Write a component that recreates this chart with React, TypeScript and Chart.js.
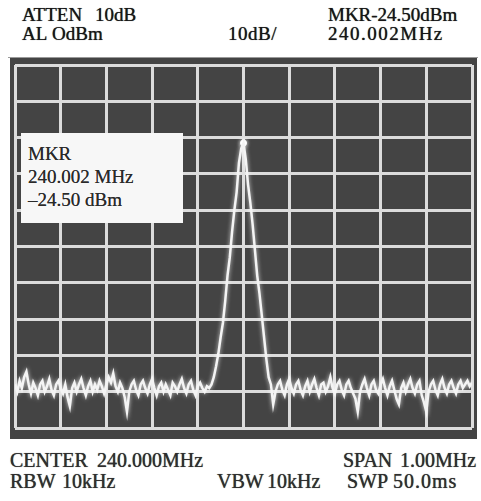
import React, { useEffect, useRef } from "react";
import { Chart, registerables } from "chart.js";

Chart.register(...registerables);

// Sweep definition (CENTER 240.000 MHz, SPAN 1.00 MHz)
const SWEEP_START_MHZ = 239.5;
const SWEEP_STOP_MHZ = 240.5;

// Trace levels (dBm), one per sweep point (201 points)
const NOISE_LEFT_DBM = [
  -88, -90, -87, -89, -86, -84.5, -88, -90.5, -87.5, -89,
  -91, -88, -87, -90, -88.5, -86.5, -89.5, -91, -88, -87,
  -89, -90.5, -88, -91.5, -94, -89, -87.5, -90, -88, -86.5,
  -89, -91, -88.5, -87, -90, -88, -89.5, -87, -88.5, -90.5,
  -88, -86, -87.5, -85, -88.5, -90, -87.5, -89, -91.5, -95.5,
  -90, -88, -87, -89.5, -91, -88, -87, -89, -90.5, -88,
  -86.5, -89, -91, -88.5, -87.5, -90, -88, -89.5, -91, -87.5,
  -88.5, -90, -88, -86.5, -89, -90.5, -88, -87, -89.5, -91,
  -88.5, -87.5, -89, -90, -88.5, -89,
];
const PEAK_DBM = [
  -88, -86, -83, -79.5, -75, -71, -65, -58, -53, -46,
  -40, -35, -27, -23, -21.5, -26, -33, -38, -44, -51,
  -58, -63, -69, -75, -81, -86, -88,
];
const NOISE_RIGHT_DBM = [
  -93.5, -90, -88, -87, -89.5, -91, -88, -86.5, -89, -90.5,
  -88, -87, -89.5, -91, -88.5, -87, -90, -88, -86.5, -89,
  -91, -88, -87.5, -90, -88.5, -86, -89, -90.5, -88, -87,
  -89.5, -91, -88, -87, -89, -90.5, -92, -95.5, -90, -88,
  -86.5, -89, -91, -88, -87, -89.5, -90.5, -88, -86.5, -89,
  -91, -88.5, -87, -89.5, -92, -93.5, -89, -87.5, -90, -88,
  -86.5, -89, -90.5, -88, -87, -91, -93, -95.5, -90, -88,
  -87, -89.5, -91, -88, -86.5, -89, -90.5, -88, -87, -89,
  -90.5, -88, -87, -89, -88, -87, -88.5, -87.5,
];
const TRACE_DBM = [...NOISE_LEFT_DBM, ...PEAK_DBM, ...NOISE_RIGHT_DBM];

const FREQ_TICKS_MHZ = [239.5, 239.6, 239.7, 239.8, 239.9, 240.0, 240.1, 240.2, 240.3, 240.4, 240.5];
const LEVEL_TICKS_DBM = [0, -10, -20, -30, -40, -50, -60, -70, -80, -90, -100];

const MARKER_FREQ_MHZ = 240.0;
const MARKER_LEVEL_DBM = -21.5;

const serif = '"Liberation Serif", "DejaVu Serif", serif';

type T = { text: string; left: number; top: number; size: number; ls?: number; color?: string };

const FOOT = "#2e2e2e";
const LABELS: T[] = [
  { text: "ATTEN", left: 22, top: 5, size: 19 },
  { text: "10dB", left: 95, top: 5, size: 19 },
  { text: "MKR-24.50dBm", left: 328, top: 5, size: 19 },
  { text: "AL", left: 22, top: 24, size: 19 },
  { text: "OdBm", left: 52, top: 24, size: 19 },
  { text: "10dB/", left: 228, top: 24, size: 19, ls: 0.5 },
  { text: "240.002MHz", left: 328, top: 24, size: 19, ls: 1.5 },
  { text: "CENTER", left: 10, top: 450, size: 20, color: FOOT },
  { text: "240.000MHz", left: 97, top: 450, size: 20, color: FOOT },
  { text: "SPAN", left: 343, top: 450, size: 20, color: FOOT },
  { text: "1.00MHz", left: 400, top: 450, size: 20, color: FOOT },
  { text: "RBW", left: 10, top: 471, size: 20, color: FOOT },
  { text: "10kHz", left: 62, top: 471, size: 20, color: FOOT },
  { text: "VBW", left: 217, top: 471, size: 20, color: FOOT },
  { text: "10kHz", left: 267, top: 471, size: 20, color: FOOT },
  { text: "SWP", left: 347, top: 471, size: 20, color: FOOT },
  { text: "50.0ms", left: 393, top: 471, size: 20, ls: 1, color: FOOT },
];

const MKR_BOX_LINES = ["MKR", "240.002 MHz", "–24.50 dBm"];

const glow = {
  id: "phosphorGlow",
  beforeDatasetsDraw(chart: any) {
    const ctx = chart.ctx;
    ctx.save();
    ctx.shadowColor = "rgba(255,255,255,0.8)";
    ctx.shadowBlur = 4;
  },
  afterDatasetsDraw(chart: any) {
    chart.ctx.restore();
  },
};

export default function App() {
  const ref = useRef<HTMLCanvasElement | null>(null);

  useEffect(() => {
    if (!ref.current) return;
    const n = TRACE_DBM.length;
    const step = (SWEEP_STOP_MHZ - SWEEP_START_MHZ) / (n - 1);
    const points = TRACE_DBM.map((y, i) => ({ x: SWEEP_START_MHZ + i * step, y }));
    const grid = { color: "#dcdcdc", lineWidth: 3, drawTicks: false };
    const chart = new Chart(ref.current, {
      type: "line",
      data: {
        datasets: [
          {
            data: points,
            borderColor: "#f4f4f4",
            borderWidth: 2.5,
            pointRadius: 0,
            tension: 0,
          },
          {
            data: [{ x: MARKER_FREQ_MHZ, y: MARKER_LEVEL_DBM }],
            pointRadius: 3,
            pointBackgroundColor: "#ffffff",
            pointBorderColor: "#ffffff",
            showLine: false,
          },
        ],
      },
      options: {
        responsive: false,
        animation: false,
        devicePixelRatio: 1,
        layout: { padding: { left: 4, right: 5, top: 7, bottom: 11 } },
        plugins: { legend: { display: false }, tooltip: { enabled: false } },
        scales: {
          x: {
            type: "linear",
            min: SWEEP_START_MHZ,
            max: SWEEP_STOP_MHZ,
            afterBuildTicks: (s: any) => {
              s.ticks = FREQ_TICKS_MHZ.map((v) => ({ value: v }));
            },
            ticks: { display: false },
            grid,
            border: { display: false },
          },
          y: {
            type: "linear",
            min: -100,
            max: 0,
            afterBuildTicks: (s: any) => {
              s.ticks = LEVEL_TICKS_DBM.map((v) => ({ value: v }));
            },
            ticks: { display: false },
            grid,
            border: { display: false },
          },
        },
      },
      plugins: [glow],
    } as any);
    return () => chart.destroy();
  }, []);

  return (
    <div
      style={{
        position: "fixed",
        left: 0,
        top: 0,
        width: 481,
        height: 501,
        background: "#ffffff",
        fontFamily: serif,
        overflow: "hidden",
      }}
    >
      {LABELS.map((l, i) => (
        <div
          key={i}
          style={{
            position: "absolute",
            left: l.left,
            top: l.top,
            fontSize: l.size,
            lineHeight: `${l.size}px`,
            letterSpacing: l.ls ? `${l.ls}px` : undefined,
            color: l.color || "#161616",
            textShadow: "0 0 0.7px rgba(0,0,0,0.8)",
            whiteSpace: "pre",
          }}
        >
          {l.text}
        </div>
      ))}
      <div
        style={{
          position: "absolute",
          left: 8,
          top: 57,
          width: 470,
          height: 1,
          background: "#9a9a9a",
        }}
      />
      <div
        style={{
          position: "absolute",
          left: 10,
          top: 58,
          width: 467,
          height: 381,
          background: "#444444",
        }}
      >
        <canvas ref={ref} width={467} height={381} style={{ display: "block", width: 467, height: 381 }} />
      </div>
      <div
        style={{
          position: "absolute",
          left: 21,
          top: 133,
          width: 162,
          height: 90,
          background: "#f7f7f7",
        }}
      >
        {MKR_BOX_LINES.map((t, i) => (
          <div
            key={i}
            style={{
              position: "absolute",
              left: 7,
              top: 11 + i * 23,
              fontSize: 19,
              lineHeight: "19px",
              color: "#2a2a2a",
              textShadow: "0 0 0.6px rgba(0,0,0,0.7)",
              whiteSpace: "pre",
            }}
          >
            {t}
          </div>
        ))}
      </div>
    </div>
  );
}
